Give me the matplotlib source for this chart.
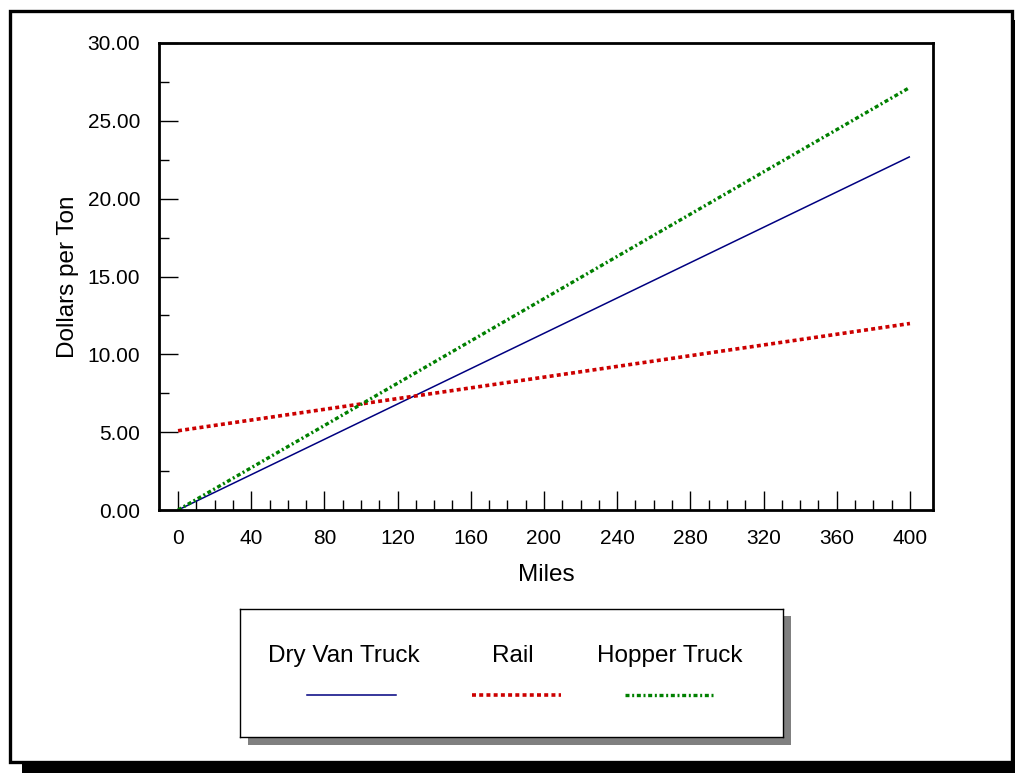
import matplotlib
matplotlib.use("Agg")
import matplotlib.pyplot as plt
from matplotlib.patches import Rectangle
from matplotlib.ticker import MultipleLocator, FixedLocator, FormatStrFormatter

plt.rcParams['font.family'] = ['Liberation Sans', 'DejaVu Sans']

miles = [0, 400]
dry_van = [0.0, 22.7]
rail = [5.09, 11.98]
hopper = [0.0, 27.15]
series_names = ["Dry Van Truck", "Rail", "Hopper Truck"]
colors = ["#000080", "#CC0000", "#008000"]
x_major = list(range(0, 401, 40))
x_minor = list(range(0, 401, 10))

W, H = 1015, 773
fig = plt.figure(figsize=(W / 100, H / 100), dpi=100)

def fx(x): return x / W
def fy(y): return 1 - y / H

# outer frame with black shadow
fig.patches.append(Rectangle((fx(22), fy(780)), fx(1010), fy(20) - fy(780),
                             transform=fig.transFigure, facecolor="black", edgecolor="none", zorder=0))
fig.patches.append(Rectangle((fx(9.5), fy(761.5)), fx(1011.5 - 9.5), fy(11) - fy(761.5),
                             transform=fig.transFigure, facecolor="white", edgecolor="black",
                             linewidth=2.4, zorder=1))

ax = fig.add_axes([fx(159), fy(510), fx(933 - 159), fy(43) - fy(510)], zorder=2)
ax.plot(miles, dry_van, color=colors[0], linewidth=1.1, solid_capstyle="butt")
ax.plot(miles, rail, color=colors[1], linewidth=2.6, linestyle=(0, (1.1, 0.9)))
ax.plot(miles, hopper, color=colors[2], linewidth=2.4, linestyle=(0, (1.2, 0.8, 0.6, 0.8)))

ax.set_xlim(-10.4, 412.6)
ax.set_ylim(0, 30)
ax.xaxis.set_major_locator(FixedLocator(x_major))
ax.xaxis.set_minor_locator(FixedLocator(x_minor))
ax.yaxis.set_major_locator(MultipleLocator(5))
ax.yaxis.set_minor_locator(MultipleLocator(2.5))
ax.yaxis.set_major_formatter(FormatStrFormatter("%.2f"))
ax.tick_params(which="major", direction="in", length=14, width=1, labelsize=15)
ax.tick_params(which="minor", direction="in", length=7, width=1)
ax.tick_params(axis="y", which="major", pad=13.5)
ax.tick_params(axis="x", which="major", pad=14)
for s in ax.spines.values():
    s.set_linewidth(2)
ax.set_xlabel("Miles", fontsize=17.5, labelpad=11)
ax.set_ylabel("Dollars per Ton", fontsize=17.5, labelpad=6.5)

# legend box with grey shadow
fig.patches.append(Rectangle((fx(248), fy(745)), fx(543), fy(616) - fy(745),
                             transform=fig.transFigure, facecolor="#808080", edgecolor="none", zorder=3))
lax = fig.add_axes([fx(240), fy(737), fx(543), fy(609) - fy(737)], zorder=4)
lax.set_xlim(240, 783)
lax.set_ylim(737, 609)
lax.set_xticks([])
lax.set_yticks([])
for s in lax.spines.values():
    s.set_linewidth(1)
centers = [344, 513, 670]
styles = [dict(linewidth=1.1), dict(linewidth=2.6, linestyle=(0, (1.1, 0.9))),
          dict(linewidth=2.4, linestyle=(0, (1.2, 0.8, 0.6, 0.8)))]
line_x = [(307, 396), (472, 561), (625, 714)]
for name, c, cx, st, lx in zip(series_names, colors, centers, styles, line_x):
    lax.text(cx, 656, name, ha="center", va="center", fontsize=17.5)
    lax.plot(lx, [695, 695], color=c, **st)

fig.savefig("out.png", dpi=100)
